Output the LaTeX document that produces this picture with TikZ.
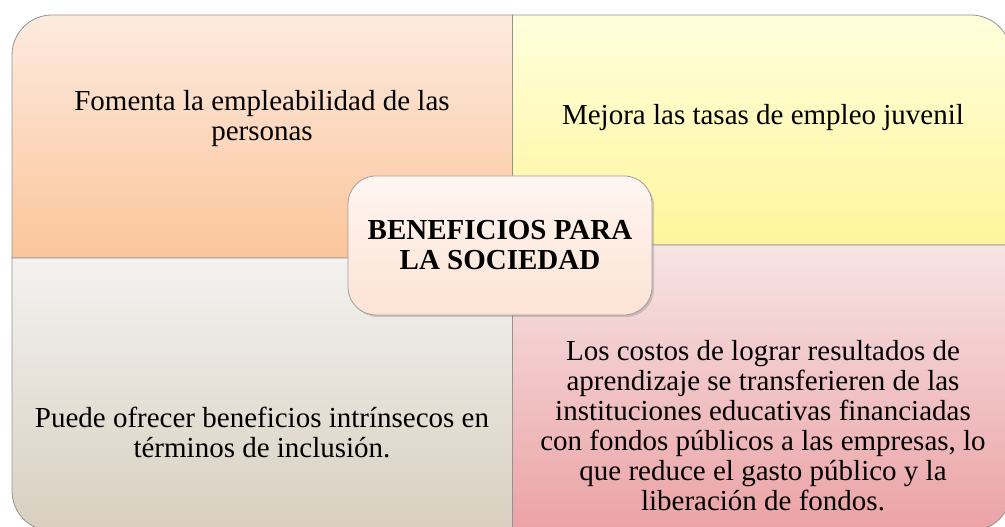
\documentclass[tikz,border=0pt]{standalone}
\usepackage{fontspec}
\setmainfont{Liberation Serif}
\usetikzlibrary{shadows}

\definecolor{tltop}{HTML}{FDEADF}
\definecolor{tlbot}{HTML}{FBC59A}
\definecolor{trtop}{HTML}{FFFEDC}
\definecolor{trbot}{HTML}{FFF59C}
\definecolor{bltop}{HTML}{F3F2F0}
\definecolor{blbot}{HTML}{D8CFBF}
\definecolor{brtop}{HTML}{F7E4E4}
\definecolor{brbot}{HTML}{EBA2A5}
\definecolor{hubtop}{HTML}{FEF5F1}
\definecolor{hubbot}{HTML}{FDE3D4}

\begin{document}
\begin{tikzpicture}[x=1pt, y=1pt,
  quad/.style={draw=gray!85, line width=0.8pt},
  quadtext/.style={align=center, inner sep=0pt, font=\fontsize{29}{30}\selectfont},
  hub/.style={draw=gray!75, line width=0.8pt, rounded corners=28pt,
    top color=hubtop, bottom color=hubbot, align=center,
    minimum width=304pt, minimum height=139pt,
    font=\fontsize{29}{30}\selectfont\bfseries,
    drop shadow={opacity=0.35, shadow xshift=2pt, shadow yshift=-2pt}}]
  \clip (0,0) rectangle (1005,527);

  % The middle of the matrix
  \coordinate (mtop) at (512.5,512);
  \coordinate (mbot) at (512.5,-4);
  % Where the left and the right halves are split
  \coordinate (lsplit) at (512.5,269);
  \coordinate (rsplit) at (512.5,282);

  % Upper left quadrant
  \path [quad, top color=tltop, bottom color=tlbot]
    (lsplit) -- (12,269) -- (12,472) arc [start angle=180, end angle=90, radius=40] -- (mtop) -- cycle;
  % Upper right quadrant
  \path [quad, top color=trtop, bottom color=trbot]
    (rsplit) -- (mtop) -- (971,512) arc [start angle=90, end angle=0, radius=40] -- (1011,282) -- cycle;
  % Lower left quadrant
  \path [quad, top color=bltop, bottom color=blbot]
    (lsplit) -- (12,269) -- (12,36) arc [start angle=180, end angle=270, radius=40] -- (mbot) -- cycle;
  % Lower right quadrant
  \path [quad, top color=brtop, bottom color=brbot]
    (rsplit) -- (1011,282) -- (1011,36) arc [start angle=0, end angle=-90, radius=40] -- (mbot) -- cycle;

  % Texts of the quadrants
  \node [quadtext] (empleabilidad) at (262,408.5) {Fomenta la empleabilidad de las\\personas};
  \node [quadtext] (empleo) at (763,409) {Mejora las tasas de empleo juvenil};
  \node [quadtext] (inclusion) at (262,95) {Puede ofrecer beneficios intrínsecos en\\términos de inclusión.};
  \node [quadtext] (costos) at (763,101) {Los costos de lograr resultados de\\aprendizaje se transferieren de las\\instituciones educativas financiadas\\con fondos públicos a las empresas, lo\\que reduce el gasto público y la\\liberación de fondos.};

  % The hub in the middle
  \node [hub] (hub) at (500,281.5) {BENEFICIOS PARA\\LA SOCIEDAD};
\end{tikzpicture}
\end{document}
